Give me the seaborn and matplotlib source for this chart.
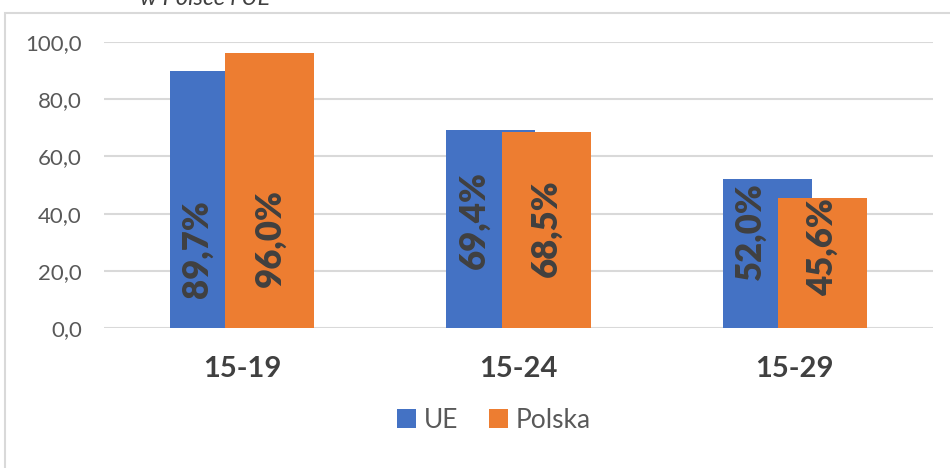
import pandas as pd
import seaborn as sns
import matplotlib.pyplot as plt
from matplotlib.patches import Rectangle, Patch

# Dane
grupy = ['15-19', '15-24', '15-29']
ue = [89.7, 69.4, 52.0]
polska = [96.0, 68.5, 45.6]
serie = ['UE', 'Polska']
kolory = ['#4472C4', '#ED7D31']
yticks = [0, 20, 40, 60, 80, 100]

# srodki etykiet danych (w jednostkach osi y) - ustawione recznie jak w oryginale
ue_lab_y = [27.6, 37.8, 33.9]
pl_lab_y = [31.5, 35.0, 28.3]

df = pd.DataFrame({
    'grupa': grupy * 2,
    'wartosc': ue + polska,
    'seria': [serie[0]] * len(grupy) + [serie[1]] * len(grupy),
})

sns.set_theme(style='white')
plt.rcParams['font.family'] = ['Lato', 'DejaVu Sans']

W, H = 950, 468
fig = plt.figure(figsize=(W / 100, H / 100), dpi=100)
ax = fig.add_axes([104 / W, 1 - 328 / H, (933 - 104) / W, (328 - 42) / H])

sns.barplot(data=df, x='grupa', y='wartosc', hue='seria', hue_order=serie,
            palette=kolory, width=0.646, saturation=1, legend=False, ax=ax)

# slupki nachodza na siebie (jak w Excelu)
szer = 0.323
przes = 0.1
for k, cont in enumerate(ax.containers):
    for i, bar in enumerate(cont):
        srodek = i + (przes if k == 1 else -przes)
        bar.set_width(szer)
        bar.set_x(srodek - szer / 2)
        bar.set_edgecolor('none')

# etykiety danych
for i in range(len(grupy)):
    b_ue = ax.containers[0][i]
    b_pl = ax.containers[1][i]
    x_ue = (b_ue.get_x() + b_pl.get_x()) / 2
    x_pl = b_pl.get_x() + b_pl.get_width() / 2
    ax.text(x_ue, ue_lab_y[i], f'{ue[i]:.1f}%'.replace('.', ','), rotation=90,
            ha='center', va='center', fontsize=25, fontweight='heavy', color='#404040')
    ax.text(x_pl, pl_lab_y[i], f'{polska[i]:.1f}%'.replace('.', ','), rotation=90,
            ha='center', va='center', fontsize=25, fontweight='heavy', color='#404040')

ax.set_ylim(0, 100)
ax.set_yticks(yticks)
ax.set_yticklabels([f'{v:.1f}'.replace('.', ',') for v in yticks])
ax.set_xlim(-0.5, len(grupy) - 0.5)
ax.set_xlabel('')
ax.set_ylabel('')
ax.grid(axis='y', color='#d9d9d9', linewidth=1.5)
ax.set_axisbelow(True)
for s in ax.spines.values():
    s.set_visible(False)
ax.tick_params(axis='y', length=0, pad=16, labelsize=16, labelcolor='#595959')
ax.tick_params(axis='x', length=0, pad=20, labelsize=21, labelcolor='#404040')
for t in ax.get_xticklabels():
    t.set_fontweight('bold')

# legenda
uchwyty = [Patch(facecolor=c, edgecolor='none') for c in kolory]
ax.legend(uchwyty, serie, loc='center', bbox_to_anchor=(494 / W, 1 - 420 / H),
          bbox_transform=fig.transFigure, ncol=2, frameon=False, fontsize=19,
          handlelength=0.7, handleheight=0.75, columnspacing=1.2, handletextpad=0.3,
          labelcolor='#595959')

# ramka obszaru wykresu (widoczna tylko lewa i gorna krawedz)
fig.add_artist(Rectangle((5 / W, -0.5), 2, 1.5 - 13 / H, transform=fig.transFigure,
                         fill=False, edgecolor='#d9d9d9', linewidth=1.5))

# obciety tytul u gory (w oryginale tez jest uciety)
fig.text(205 / W, 1 - 5 / H, 'w Polsce i UE', ha='center', va='baseline',
         fontsize=17, style='italic', color='#404040')

fig.savefig('out.png', dpi=100)
